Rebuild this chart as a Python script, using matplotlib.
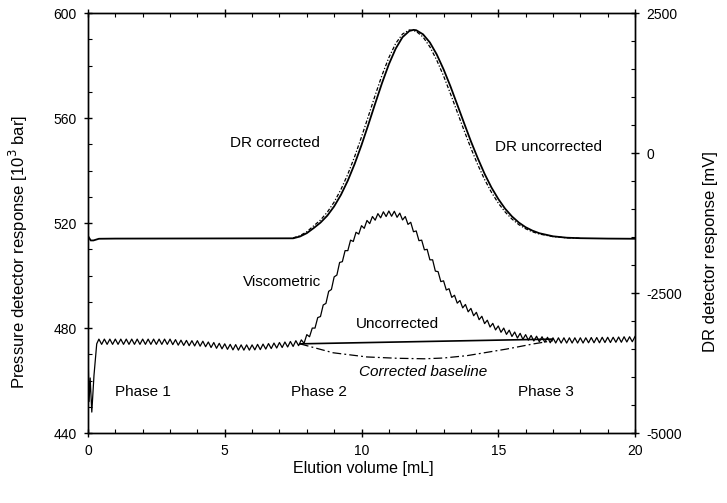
#!/usr/bin/env python3
"""
plot.py - Pressure (viscometric) and DR detector traces vs elution volume,
with uncorrected / corrected pressure baselines. Writes out.png.
"""

import numpy as np
import matplotlib
matplotlib.use("Agg")
import matplotlib.pyplot as plt
from matplotlib.ticker import MultipleLocator

plt.rcParams.update({
    "font.family": ["Liberation Sans", "DejaVu Sans"],
    "font.size": 10,
    "axes.linewidth": 1.0,
    "axes.unicode_minus": False,
})

# --- DR detector trace (right axis, mV) ---
dr_x = [0.0, 0.1, 0.2, 0.4, 1.0, 7.5, 7.75, 8.0, 8.25, 8.5, 8.75, 9.0, 9.25,
        9.5, 9.75, 10.0, 10.25, 10.5, 10.75, 11.0, 11.25, 11.5, 11.75, 11.9,
        12.0, 12.25, 12.5, 12.75, 13.0, 13.25, 13.5, 13.75, 14.0, 14.25, 14.5,
        14.75, 15.0, 15.25, 15.5, 15.75, 16.0, 16.25, 16.5, 17.0, 17.5, 18.0,
        19.0, 20.0]
dr_corrected = [-1480, -1560, -1560, -1530, -1527, -1522, -1490, -1430, -1340,
                -1242, -1117, -952, -744, -491, -193, 143, 508, 884, 1250, 1585,
                1865, 2070, 2181, 2200, 2194, 2121, 1975, 1762, 1496, 1194, 866,
                535, 210, -92, -371, -614, -819, -993, -1131, -1240, -1324,
                -1385, -1431, -1486, -1511, -1520, -1527, -1530]

dr_unc_x = [7.5, 7.75, 8.0, 8.25, 8.5, 8.75, 9.0, 9.25, 9.5, 9.75, 10.0, 10.25,
            10.5, 10.75, 11.0, 11.25, 11.5, 11.75, 12.0, 12.25, 12.5, 12.75,
            13.0, 13.25, 13.5, 13.75, 14.0, 14.25, 14.5, 14.75, 15.0, 15.25,
            15.5, 15.75, 16.0, 16.25, 16.5, 17.0, 17.5, 18.0]
dr_uncorrected = [-1515, -1475, -1405, -1300, -1196, -1055, -875, -648, -377,
                  -62, 288, 657, 1033, 1391, 1705, 1958, 2126, 2199, 2174,
                  2072, 1897, 1660, 1378, 1063, 733, 404, 87, -208, -472, -700,
                  -893, -1051, -1178, -1277, -1351, -1406, -1445, -1492, -1513,
                  -1520]

# --- Viscometric (pressure) trace, left axis [10^3 bar] ---
# start-up transient
visc_start_x = [0.0, 0.04, 0.08, 0.14, 0.22, 0.32, 0.4]
visc_start = [472, 452, 461, 448, 462, 474, 475.8]
# pump ripple, sampled every 0.1 mL from 0.4 mL
visc_ripple_x0 = 0.4
visc_ripple_dx = 0.1
visc_ripple = [
    475.8, 473.8, 475.8, 473.8, 475.8, 473.8,                               # 0.4-0.9
    475.8, 473.8, 475.8, 473.8, 475.8, 473.8, 475.8, 473.8, 475.8, 473.8,   # 1.0-1.9
    475.8, 473.8, 475.8, 473.8, 475.8, 473.8, 475.8, 473.8, 475.8, 473.8,   # 2.0-2.9
    475.8, 473.7, 475.6, 473.5, 475.4, 473.4, 475.3, 473.3, 475.2, 473.2,   # 3.0-3.9
    475.2, 473.1, 475.0, 472.9, 474.7, 472.6, 474.5, 472.3, 474.2, 472.1,   # 4.0-4.9
    474.0, 471.9, 473.8, 471.7, 473.7, 471.6, 473.6, 471.6, 473.6, 471.6,   # 5.0-5.9
    473.6, 471.7, 473.8, 471.8, 473.9, 472.0, 474.1, 472.2, 474.3, 472.4,   # 6.0-6.9
    474.5, 472.6, 474.7, 472.8, 474.9, 473.0, 475.2, 473.3, 475.5, 474.2,   # 7.0-7.9
    477.5, 476.7, 480.0, 480.0, 484.0, 484.4, 488.8, 489.4, 494.0, 494.7,   # 8.0-8.9
    499.5, 500.2, 505.0, 505.3, 509.5, 509.5, 513.5, 513.0, 516.5, 515.8,   # 9.0-9.9
    519.0, 518.0, 521.0, 519.8, 522.5, 521.1, 523.6, 522.0, 524.3, 522.5,   # 10.0-10.9
    524.6, 522.6, 524.5, 522.2, 523.8, 521.2, 522.5, 519.5, 520.3, 516.7,   # 11.0-11.9
    517.0, 513.3, 513.5, 509.8, 510.0, 506.0, 506.0, 501.7, 501.5, 497.7,   # 12.0-12.9
    498.0, 494.5, 495.0, 491.7, 492.5, 489.5, 490.5, 487.7, 489.0, 486.2,   # 13.0-13.9
    487.5, 484.7, 486.0, 483.2, 484.5, 481.7, 483.0, 480.4, 481.8, 479.3,   # 14.0-14.9
    480.8, 478.4, 480.0, 477.6, 479.2, 476.8, 478.5, 476.2, 478.0, 475.7,   # 15.0-15.9
    477.5, 475.4, 477.2, 475.1, 476.9, 474.8, 476.7, 474.6, 476.5, 474.4,   # 16.0-16.9
    476.3, 474.3, 476.3, 474.3, 476.3, 474.3, 476.3, 474.3, 476.3, 474.3,   # 17.0-17.9
    476.3, 474.3, 476.3, 474.4, 476.4, 474.4, 476.4, 474.4, 476.5, 474.5,   # 18.0-18.9
    476.5, 474.5, 476.5, 474.6, 476.6, 474.6, 476.7, 474.7, 476.7, 474.8,   # 19.0-19.9
    476.8,                                                                  # 20.0
]

# --- Baselines under the viscometric peak ---
base_unc_x = [7.75, 17.0]
base_unc = [474.0, 475.8]
base_cor_x = [7.75, 8.96, 10.2, 11.3, 12.3, 13.0, 13.86, 15.3, 16.3, 17.0]
base_cor = [474.0, 470.6, 469.0, 468.5, 468.3, 468.6, 469.5, 472.0, 474.0, 475.2]


def main():
    fig = plt.figure(figsize=(7.27, 5.03), dpi=100)
    ax = fig.add_axes([0.121, 0.139, 0.7525, 0.835])
    ax2 = ax.twinx()

    n = len(visc_ripple)
    ripple_x = visc_ripple_x0 + visc_ripple_dx * np.arange(n)
    vx = np.concatenate([visc_start_x, ripple_x])
    vy = np.concatenate([visc_start, visc_ripple])

    ax.plot(vx, vy, color="black", lw=0.9)
    ax.plot(base_unc_x, base_unc, color="black", lw=1.2)
    ax.plot(base_cor_x, base_cor, color="black", lw=0.9,
            linestyle=(0, (7, 2.5, 1.5, 2.5)))

    ax2.plot(dr_x, dr_corrected, color="black", lw=1.3)
    ax2.plot(dr_unc_x, dr_uncorrected, color="black", lw=0.9,
             linestyle=(0, (3, 1.5, 1, 1.5)))

    ax.set_xlim(0, 20)
    ax.set_ylim(440, 600)
    ax2.set_ylim(-5000, 2500)

    ax.xaxis.set_major_locator(MultipleLocator(5))
    ax.xaxis.set_minor_locator(MultipleLocator(1))
    ax.yaxis.set_major_locator(MultipleLocator(40))
    ax.yaxis.set_minor_locator(MultipleLocator(10))
    ax2.yaxis.set_major_locator(MultipleLocator(2500))
    ax2.yaxis.set_minor_locator(MultipleLocator(500))

    ax.tick_params(which="major", direction="inout", length=6, width=1,
                   top=True, labelsize=10, pad=5)
    ax.tick_params(which="minor", direction="in", length=3, width=0.8,
                   top=True)
    ax.tick_params(axis="y", which="both", right=False)
    ax2.tick_params(which="major", direction="inout", length=6, width=1,
                    labelsize=10, pad=5)
    ax2.tick_params(which="minor", direction="in", length=3, width=0.8)

    fig.text(0.5, 1 - 468 / 503, "Elution volume [mL]", ha="center",
             va="center", fontsize=11.5)
    fig.text(18 / 727, 0.5, "Pressure detector response [10$^3$ bar]",
             ha="center", va="center", rotation=90, fontsize=12)
    fig.text(710 / 727, 0.5, "DR detector response [mV]", ha="center",
             va="center", rotation=90, fontsize=12)

    note = dict(ha="center", va="center", fontsize=11)
    ax.text(6.84, 550.4, "DR corrected", **note)
    ax.text(16.82, 548.9, "DR uncorrected", **note)
    ax.text(7.09, 497.7, "Viscometric", **note)
    ax.text(11.3, 481.7, "Uncorrected", **note)
    ax.text(12.25, 463.4, "Corrected baseline", style="italic", **note)
    ax.text(2.0, 455.7, "Phase 1", **note)
    ax.text(8.45, 455.7, "Phase 2", **note)
    ax.text(16.75, 455.7, "Phase 3", **note)

    fig.savefig("out.png", dpi=100)
    plt.close(fig)


if __name__ == "__main__":
    main()
